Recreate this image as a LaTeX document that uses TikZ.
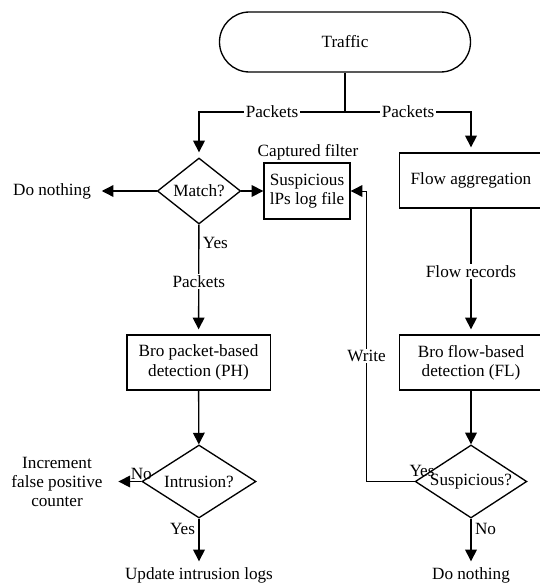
\documentclass[tikz,border=0pt]{standalone}
\usepackage{fontspec}
\setmainfont{Liberation Serif}
\usetikzlibrary{arrows.meta,shapes.geometric}

\begin{document}
\begin{tikzpicture}
  [x=0.6pt,y=-0.6pt,font=\fontsize{10.3}{11.6}\selectfont,
   every node/.style={align=center},
   box/.style={draw,line width=0.8pt,minimum width=86pt,minimum height=33pt,inner sep=2pt},
   test/.style={draw,diamond,line width=0.8pt,inner sep=0pt,aspect=1.5},
   flow/.style={line width=0.8pt,-{Triangle[length=7pt,width=7pt]}},
   gap/.style={shorten >=3pt},
   lbl/.style={fill=white,inner sep=1pt}]
  \clip (0,0) rectangle (540,586);
  \fill[white] (0,0) rectangle (540,586);
  % nodes
  \node[draw,line width=0.8pt,rounded corners=18pt,minimum width=150.6pt,minimum height=36pt] (traffic) at (345,42) {Traffic};
  \coordinate (split) at (345,112);
  \node[test,minimum width=50pt,minimum height=39.6pt] (match) at (199,191) {Match?};
  \node (nothingl) at (52,191) {Do nothing};
  \node[draw,line width=0.8pt,minimum width=51.6pt,minimum height=33.6pt,inner sep=1pt] (logfile) at (307,191) {Suspicious\\lPs log file};
  \node (captured) at (308,152) {Captured filter};
  \node[box] (flowagg) at (471,180.5) {Flow aggregation};
  \node[box] (phbox) at (198.5,362.5) {Bro packet-based\\detection (PH)};
  \node[box] (flbox) at (471,362.5) {Bro flow-based\\detection (FL)};
  \node[test,minimum width=68.4pt,minimum height=43.8pt] (intrusion) at (199,481.5) {Intrusion?};
  \node[test,minimum width=67pt,minimum height=43.8pt] (suspicious) at (471,481.5) {Suspicious?};
  \node (increment) at (57,482) {Increment\\false positive\\counter};
  \node (update) at (199,575) {Update intrusion logs};
  \node (nothingr) at (471,575) {Do nothing};
  % connectors
  \draw[line width=0.8pt] (traffic) -- (split);
  \draw[flow,gap] (split) -- node[lbl]{Packets} (split -| match) -- (match);
  \draw[flow,gap] (split) -- node[lbl]{Packets} (split -| flowagg) -- (flowagg);
  \draw[flow,gap] (match) -- (nothingl);
  \draw[flow] (match) -- (logfile);
  \draw[flow,gap] (match) -- node[pos=0.08,anchor=north west,inner sep=2pt]{Yes} node[lbl,pos=0.52]{Packets} (phbox);
  \draw[flow,gap] (flowagg) -- node[lbl]{Flow records} (flbox);
  \foreach \from/\to in {phbox/intrusion,flbox/suspicious}
    \draw[flow] (\from) -- (\to);
  \draw[flow,shorten >=6pt] (intrusion.west) -- node[pos=0,anchor=south,inner sep=1pt]{No} (intrusion.west -| increment.east);
  \draw[flow] (intrusion) -- node[pos=0.25,anchor=east,inner sep=2pt]{Yes} (update);
  \draw[flow] (suspicious) -- node[pos=0.25,anchor=west,inner sep=2pt]{No} (nothingr);
  \draw[flow,line width=0.6pt] (suspicious.west) -- ++(-48,0) |- node[pos=0.216,lbl]{Write} (logfile.east);
  \node[inner sep=0pt] (yesw) at (422,471) {Yes};
\end{tikzpicture}
\end{document}
